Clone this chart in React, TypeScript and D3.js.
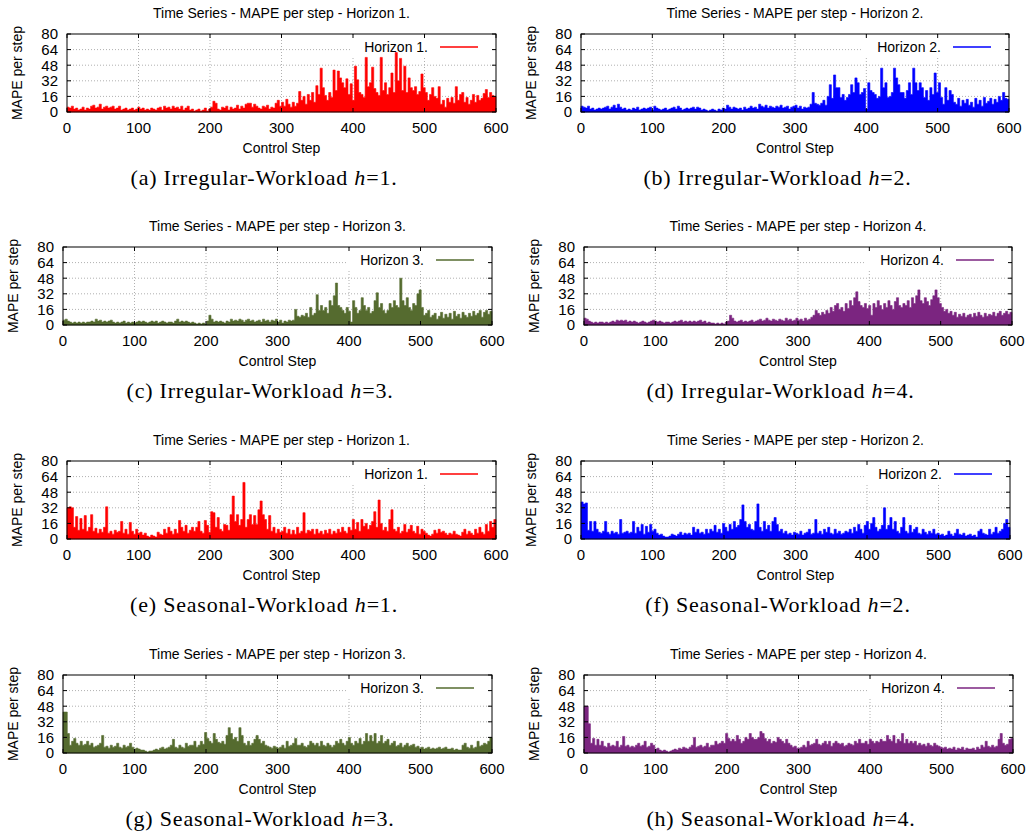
import React from 'react';
import * as d3 from 'd3';

// Sampled every 3 control steps (0, 3, ..., 597)
const STEP_INTERVAL = 3;

const irregularH1 = [
  5,4,6,3,4,2,3,5,2,4, 3,6,7,4,5,8,3,5,6,4, 5,6,3,4,6,2,3,4,2,3, 4,2,3,5,3,4,2,3,2,4,
  3,2,4,5,2,6,4,5,3,6, 4,5,3,6,2,4,6,2,3,1, 2,3,1,2,4,1,3,5,11,9, 3,2,5,4,6,2,5,3,4,7,
  3,6,4,8,9,9,5,8,6,4, 3,6,5,7,3,5,4,9,12,6, 10,6,13,8,5,10,6,9,21,12, 16,8,18,12,20,10,27,18,45,25,
  17,12,20,15,43,22,42,35,30,25, 34,18,29,12,47,33,20,18,15,56, 26,30,46,24,20,17,56,22,30,18, 25,40,20,61,32,55,22,47,20,35,
  25,22,26,18,21,39,25,20,12,18, 25,16,14,26,8,12,5,14,10,15, 9,26,12,18,20,10,15,8,12,18, 10,17,12,14,19,23,15,20,17,16,
];
const irregularH2 = [
  6,5,4,6,3,4,2,3,4,3, 4,5,6,3,5,7,4,8,5,3, 4,2,3,2,4,3,5,2,3,4, 3,4,5,2,6,4,3,2,3,4,
  2,3,4,5,3,6,4,2,3,4, 3,4,5,3,5,4,2,3,2,1, 2,3,2,1,3,2,4,3,7,5, 3,5,4,3,4,2,5,3,4,6,
  4,5,3,8,6,5,7,4,6,5, 4,6,5,7,4,5,6,3,5,6, 7,4,6,3,5,4,5,8,20,9, 8,7,9,12,7,16,28,14,38,25,
  25,15,18,12,15,18,28,20,35,30, 18,20,24,3,30,22,20,18,14,16, 45,25,30,15,16,20,45,35,28,20, 20,14,22,30,18,45,30,22,30,25,
  15,22,12,25,18,40,20,30,15,8, 25,12,22,18,10,8,14,6,12,9, 13,7,10,5,14,8,12,6,15,9, 11,14,8,13,10,16,12,20,14,13,
];
const irregularH3 = [
  5,6,4,3,2,3,2,3,2,3, 2,3,3,4,3,6,4,5,3,4, 3,4,5,3,2,3,2,3,4,2, 3,2,3,2,3,4,3,4,3,2,
  3,4,3,4,2,3,4,3,2,3, 3,2,4,6,3,4,3,4,3,2, 3,2,1,2,1,2,1,4,10,6, 3,4,3,4,3,2,4,3,6,4,
  5,4,6,5,3,5,6,4,5,3, 4,5,3,6,4,5,3,5,4,6, 3,5,2,4,3,5,4,5,16,9, 8,10,9,12,8,18,10,12,31,15,
  20,15,18,12,25,20,30,43,20,18, 15,12,18,14,3,25,18,12,15,28, 20,15,18,12,14,25,33,18,22,15, 12,15,22,18,25,20,18,48,25,20,
  28,18,15,22,20,32,36,18,10,12, 15,8,10,12,6,9,13,7,11,8, 12,6,14,9,11,7,13,10,8,12, 9,14,10,12,15,8,13,15,11,14,
];
const irregularH4 = [
  7,6,4,3,2,3,2,3,3,2, 3,2,3,4,3,5,4,5,4,5, 3,4,3,4,3,2,3,4,3,2, 3,4,5,4,3,4,3,2,3,3,
  2,3,4,3,4,5,3,4,3,4, 3,4,3,4,5,3,4,2,3,2, 2,1,2,1,2,1,3,4,10,7, 4,3,4,5,3,4,3,4,5,3,
  4,5,6,4,5,7,5,4,6,5, 4,6,5,4,7,5,6,4,5,7, 5,6,4,7,5,6,8,10,15,12, 10,13,11,15,12,18,14,20,22,16,
  18,14,22,17,25,20,28,34,24,20, 18,22,17,20,10,22,18,25,20,16, 22,18,25,20,16,24,28,20,18,22, 20,25,18,28,22,30,36,25,22,28,
  24,20,26,30,36,28,22,18,14,16, 12,14,10,13,8,11,9,12,8,10, 11,8,12,9,13,10,8,12,9,11, 10,13,9,12,14,10,12,14,11,13,
];
const seasonalH1 = [
  32,33,32,12,23,9,21,10,24,8, 12,25,8,11,6,10,7,12,33,6, 8,5,9,7,8,18,6,10,5,17, 8,5,10,6,7,4,6,3,2,4,
  3,2,7,5,4,10,6,12,8,5, 10,6,19,12,8,14,6,9,12,8, 12,18,8,6,19,14,7,28,27,12, 22,10,8,15,14,9,25,44,18,25,
  14,20,58,12,20,25,15,24,15,30, 39,25,20,10,24,8,12,6,10,7, 8,12,6,10,5,9,5,12,6,8, 27,6,9,8,10,5,10,6,8,5,
  9,6,10,5,8,6,10,7,12,8, 6,12,9,20,10,17,8,20,13,16, 10,14,18,28,12,40,16,9,12,8, 20,30,10,8,12,6,8,15,7,10,
  14,8,6,13,5,10,8,6,4,3, 5,9,6,10,7,8,6,4,6,5, 8,5,4,3,7,10,5,8,6,4, 10,6,12,7,5,15,8,18,12,20,
];
const seasonalH2 = [
  38,36,37,9,18,8,18,10,7,6, 8,18,7,5,8,6,7,5,20,6, 7,8,6,7,18,6,12,8,15,5, 13,7,15,8,10,6,4,5,3,2,
  2,3,5,4,3,5,7,4,6,5, 6,4,12,7,10,6,7,5,10,6, 10,8,14,7,10,6,16,12,8,15, 10,18,12,14,20,35,18,12,15,10,
  9,18,36,12,8,18,10,14,8,18, 22,15,8,10,6,8,5,6,4,7, 6,5,8,4,6,7,10,5,6,20, 6,8,5,10,7,12,6,5,10,6,
  8,5,6,8,7,10,6,12,8,15, 10,6,14,18,10,16,22,12,8,10, 14,32,10,14,22,10,18,8,6,12, 22,8,6,14,7,10,12,6,5,10,
  7,5,8,6,10,5,6,4,5,3, 4,8,5,3,6,10,5,4,6,3, 4,5,3,4,2,8,10,6,5,4, 10,5,7,12,6,8,10,16,20,12,
];
const seasonalH3 = [
  42,42,20,8,12,15,10,8,12,8, 9,12,8,10,6,7,8,10,18,6, 7,5,8,6,7,10,6,5,8,6, 7,10,6,4,5,4,3,3,2,1,
  2,2,3,4,3,5,6,4,5,6, 8,14,6,5,8,6,5,10,7,8, 8,12,6,8,12,9,21,15,12,10, 20,14,11,10,12,9,18,26,20,14,
  16,12,26,18,10,8,12,8,10,14, 18,14,10,12,8,7,6,5,7,6, 5,6,8,5,12,7,8,10,15,8, 8,10,7,6,8,12,10,8,10,7,
  12,8,7,10,8,6,8,12,10,14, 10,8,12,16,10,8,12,10,15,9, 12,20,12,18,12,20,10,12,18,10, 12,14,8,10,12,7,8,10,6,8,
  10,7,8,9,6,7,5,6,4,5, 6,4,5,4,5,6,4,5,6,4, 4,5,3,4,3,3,8,10,6,5, 8,5,6,12,7,8,10,9,12,16,
];
const seasonalH4 = [
  48,48,30,10,15,8,14,8,12,7, 6,10,7,8,7,12,6,8,17,7, 8,6,7,6,8,10,7,8,12,6, 7,10,8,4,5,3,2,3,2,1,
  2,3,4,3,5,4,6,5,4,6, 8,16,6,7,8,6,7,10,6,8, 8,12,9,10,12,10,20,15,12,14, 12,18,14,10,12,16,14,20,16,14,
  14,16,22,20,15,12,14,10,12,11, 16,14,12,10,14,10,8,6,7,5, 5,6,8,6,12,8,9,10,14,9, 8,10,12,9,12,7,10,12,10,9,
  10,7,8,10,9,8,12,10,14,10, 10,12,9,14,12,10,12,11,14,12, 12,18,14,12,18,10,14,12,20,10, 14,10,12,10,12,8,10,8,9,7,
  10,8,7,10,8,7,6,5,6,4, 5,4,6,3,5,4,6,3,5,4, 4,5,3,6,4,8,6,12,7,6, 8,6,7,14,20,10,8,9,14,15,
];

const xTickValues = [0, 100, 200, 300, 400, 500, 600];
const yTickValues = [0, 16, 32, 48, 64, 80];
const xDomain = [0, 600];
const yDomain = [0, 80];

const panelSpecs = [
  { letter: 'a', workload: 'Irregular-Workload', horizon: 1, color: '#ff0000', data: irregularH1 },
  { letter: 'b', workload: 'Irregular-Workload', horizon: 2, color: '#0000ff', data: irregularH2 },
  { letter: 'c', workload: 'Irregular-Workload', horizon: 3, color: '#556b2f', data: irregularH3 },
  { letter: 'd', workload: 'Irregular-Workload', horizon: 4, color: '#7b2580', data: irregularH4 },
  { letter: 'e', workload: 'Seasonal-Workload', horizon: 1, color: '#ff0000', data: seasonalH1 },
  { letter: 'f', workload: 'Seasonal-Workload', horizon: 2, color: '#0000ff', data: seasonalH2 },
  { letter: 'g', workload: 'Seasonal-Workload', horizon: 3, color: '#556b2f', data: seasonalH3 },
  { letter: 'h', workload: 'Seasonal-Workload', horizon: 4, color: '#7b2580', data: seasonalH4 },
];

const layouts = [
  { left: 67, right: 496, top: 34 },
  { left: 581, right: 1009, top: 34 },
  { left: 63, right: 492, top: 247 },
  { left: 584, right: 1012, top: 247 },
  { left: 67, right: 496, top: 461 },
  { left: 581, right: 1010, top: 461 },
  { left: 63, right: 492, top: 675 },
  { left: 584, right: 1013, top: 675 },
];

const SANS = "'Liberation Sans', Arial, Helvetica, sans-serif";
const SERIF = "'Liberation Serif', 'Times New Roman', serif";
const PLOT_H = 78;

function Panel({ spec, layout }: { spec: any; layout: any }) {
  const { left, right, top } = layout;
  const bottom = top + PLOT_H;
  const x = d3.scaleLinear().domain(xDomain).range([left, right]);
  const y = d3.scaleLinear().domain(yDomain).range([bottom, top]);
  const pts: [number, number][] = spec.data.map((v: number, i: number) => [i * STEP_INTERVAL, v]);
  // boxes: each sample spans its 3-step interval
  const boxes: [number, number][] = [...pts, [xDomain[1], spec.data[spec.data.length - 1]]];
  const area = d3.area<[number, number]>().x(d => x(d[0])).y0(y(0)).y1(d => y(d[1])).curve(d3.curveStepAfter);
  const cx = (left + right) / 2;
  const tick = 4;
  const legendLabel = `Horizon ${spec.horizon}.`;
  return (
    <g>
      <text x={cx} y={top - 16} textAnchor="middle" fontFamily={SANS} fontSize={14}>
        {`Time Series - MAPE per step - Horizon ${spec.horizon}.`}
      </text>
      {/* grid */}
      {yTickValues.filter(v => v > 0 && v < 80).map(v => (
        <line key={'gy' + v} x1={left} x2={right} y1={y(v)} y2={y(v)} stroke="#b0b0b0" strokeWidth={1} strokeDasharray="1,2" />
      ))}
      {xTickValues.filter(v => v > 0 && v < 600).map(v => (
        <line key={'gx' + v} x1={x(v)} x2={x(v)} y1={top} y2={bottom} stroke="#b0b0b0" strokeWidth={1} strokeDasharray="1,2" />
      ))}
      {/* legend box (opaque) */}
      <rect x={right - 146} y={top + 1} width={142} height={21} fill="#ffffff" />
      {/* data */}
      <path d={area(boxes) || ''} fill={spec.color} stroke={spec.color} strokeWidth={0.6} strokeLinejoin="miter" />
      {/* frame */}
      <rect x={left} y={top} width={right - left} height={PLOT_H} fill="none" stroke="#000" strokeWidth={1} />
      {/* ticks */}
      {yTickValues.map(v => (
        <g key={'ty' + v}>
          <line x1={left} x2={left + tick} y1={y(v)} y2={y(v)} stroke="#000" />
          <line x1={right} x2={right - tick} y1={y(v)} y2={y(v)} stroke="#000" />
          <text x={left - 9} y={y(v)} dy="0.36em" textAnchor="end" fontFamily={SANS} fontSize={15}>{v}</text>
        </g>
      ))}
      {xTickValues.map(v => (
        <g key={'tx' + v}>
          <line x1={x(v)} x2={x(v)} y1={bottom} y2={bottom - tick} stroke="#000" />
          <line x1={x(v)} x2={x(v)} y1={top} y2={top + tick} stroke="#000" />
          <text x={x(v)} y={bottom + 21} textAnchor="middle" fontFamily={SANS} fontSize={15}>{v}</text>
        </g>
      ))}
      {/* legend */}
      <text x={right - 68} y={top + 18} textAnchor="end" fontFamily={SANS} fontSize={14}>{legendLabel}</text>
      <line x1={right - 56} x2={right - 18} y1={top + 13} y2={top + 13} stroke={spec.color} strokeWidth={1.5} />
      {/* axis labels */}
      <text x={cx} y={bottom + 41} textAnchor="middle" fontFamily={SANS} fontSize={14}>Control Step</text>
      <text transform={`translate(${left - 45},${(top + bottom) / 2}) rotate(-90)`} textAnchor="middle" fontFamily={SANS} fontSize={14}>MAPE per step</text>
      {/* caption */}
      <text x={cx - 17.5} y={bottom + 73} textAnchor="middle" fontFamily={SERIF} fontSize={22} letterSpacing={0.8}>
        {`(${spec.letter}) ${spec.workload} `}
        <tspan fontStyle="italic">h</tspan>
        {`=${spec.horizon}.`}
      </text>
    </g>
  );
}

export default function App() {
  return (
    <svg width={1029} height={831} style={{ position: 'absolute', left: 0, top: 0, background: '#fff' }}>
      <rect x={0} y={0} width={1029} height={831} fill="#fff" />
      {panelSpecs.map((s, i) => (
        <Panel key={s.letter} spec={s} layout={layouts[i]} />
      ))}
    </svg>
  );
}
